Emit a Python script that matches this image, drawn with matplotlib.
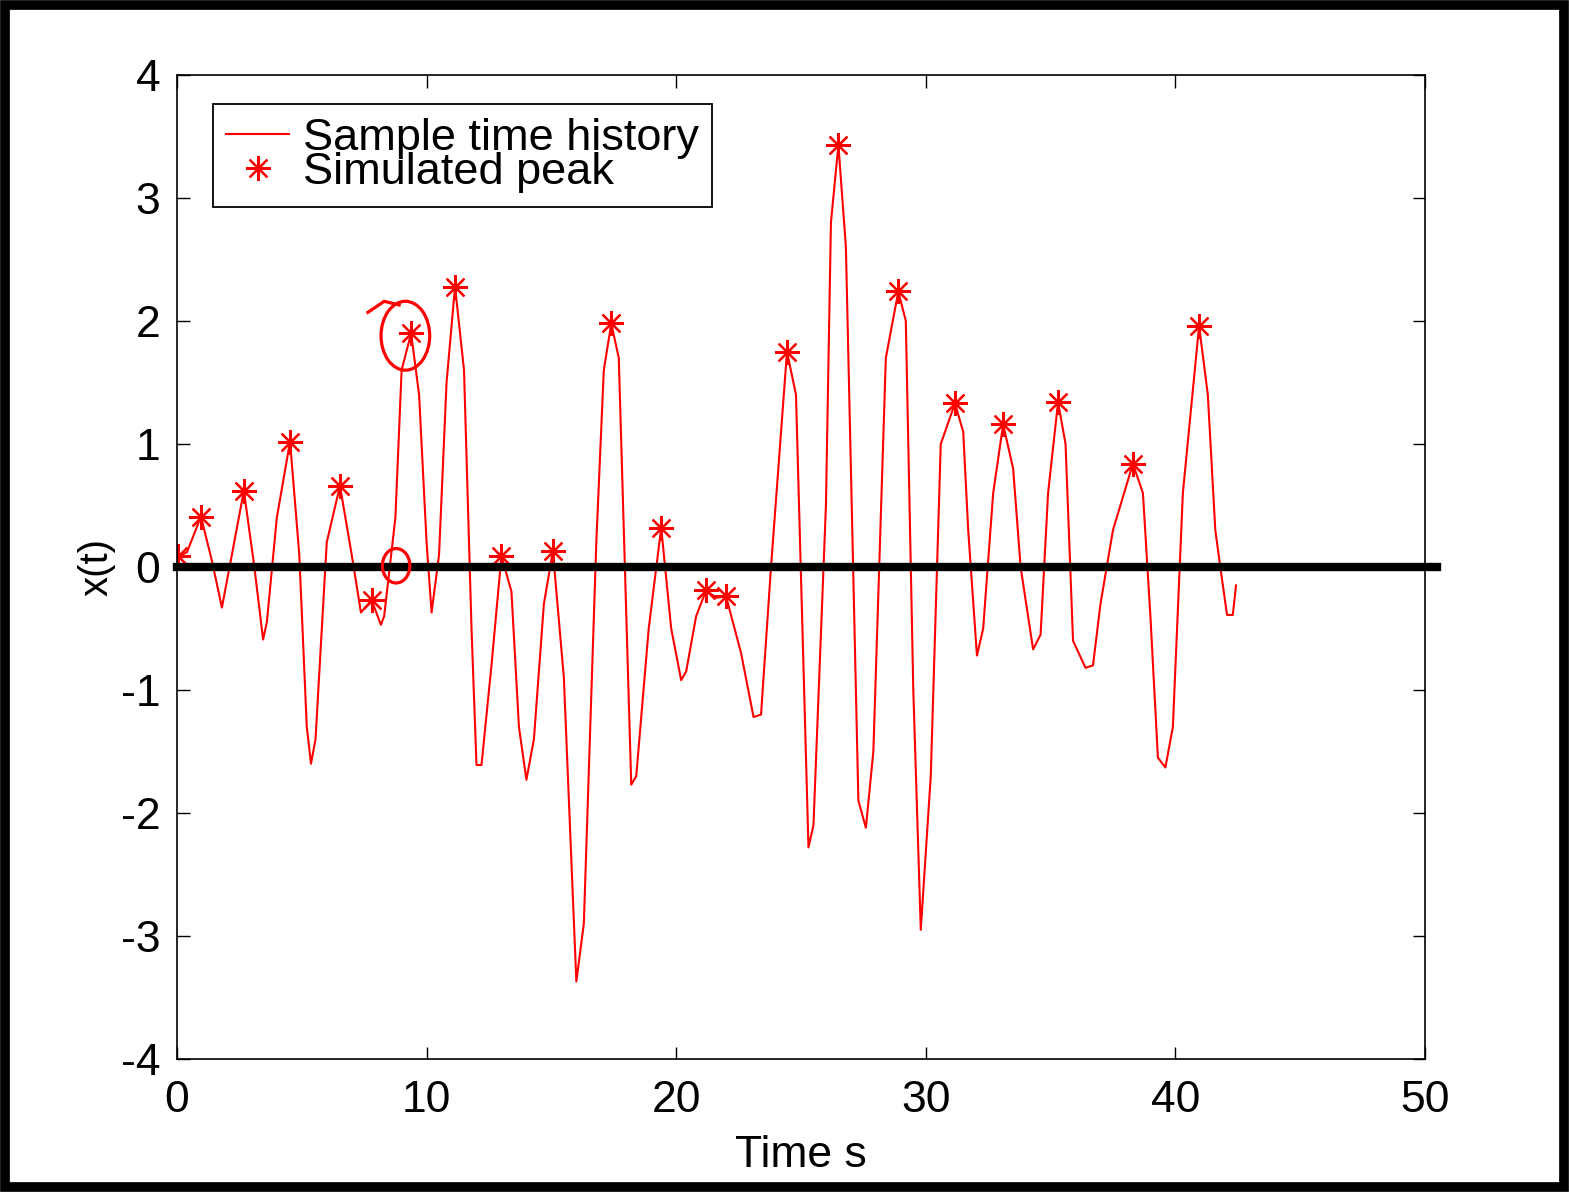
import matplotlib.pyplot as plt
from matplotlib.patches import Ellipse, Rectangle

plt.rcParams['font.family'] = ['Liberation Sans', 'DejaVu Sans']
plt.rcParams['axes.unicode_minus'] = False

# sample time history (vertices)
t = [0.0, 0.4, 0.96, 1.4, 1.8, 2.2, 2.68, 3.1, 3.45, 3.6, 4.0, 4.53, 4.9, 5.2, 5.37, 5.55,
     6.0, 6.53, 7.0, 7.37, 7.8, 8.17, 8.3, 8.75, 9.0, 9.38, 9.7, 10.0, 10.2, 10.5, 10.8,
     11.14, 11.5, 11.8, 12.0, 12.2, 12.6, 13.0, 13.4, 13.7, 14.0, 14.3, 14.7, 15.06,
     15.5, 16.0, 16.3, 16.8, 17.1, 17.4, 17.7, 18.2, 18.4, 18.9, 19.4, 19.8, 20.2, 20.4,
     20.8, 21.2, 21.6, 22.0, 22.6, 23.1, 23.4, 23.8, 24.44, 24.8, 25.3, 25.5, 26.0, 26.2,
     26.5, 26.8, 27.3, 27.6, 27.9, 28.4, 28.9, 29.2, 29.5, 29.8, 30.2, 30.6, 31.17, 31.5,
     31.7, 32.05, 32.3, 32.7, 33.1, 33.5, 33.8, 34.3, 34.6, 34.9, 35.3, 35.6, 35.9, 36.4,
     36.7, 37.0, 37.5, 38.3, 38.7, 39.0, 39.3, 39.6, 39.9, 40.3, 40.95, 41.3, 41.6, 41.8,
     42.07, 42.3, 42.43]
x = [0.08, 0.12, 0.41, 0.05, -0.33, 0.1, 0.62, 0.0, -0.59, -0.45, 0.4, 1.02, 0.1, -1.3,
     -1.6, -1.4, 0.2, 0.66, 0.1, -0.37, -0.27, -0.47, -0.4, 0.4, 1.6, 1.9, 1.4, 0.2, -0.37,
     0.1, 1.5, 2.28, 1.6, -0.5, -1.61, -1.61, -0.8, 0.09, -0.2, -1.3, -1.73, -1.4, -0.3,
     0.13, -0.9, -3.37, -2.9, 0.2, 1.6, 1.98, 1.7, -1.77, -1.7, -0.5, 0.32, -0.5, -0.92,
     -0.85, -0.4, -0.19, -0.25, -0.24, -0.7, -1.22, -1.2, 0.0, 1.75, 1.4, -2.28, -2.1,
     0.5, 2.8, 3.43, 2.6, -1.9, -2.12, -1.5, 1.7, 2.24, 2.0, -1.0, -2.95, -1.7, 1.0,
     1.33, 1.1, 0.3, -0.72, -0.5, 0.6, 1.16, 0.8, 0.0, -0.67, -0.55, 0.6, 1.34, 1.0,
     -0.6, -0.82, -0.8, -0.3, 0.3, 0.84, 0.6, -0.4, -1.55, -1.63, -1.3, 0.6, 1.96, 1.4,
     0.3, 0.0, -0.39, -0.39, -0.15]

# simulated peaks
peak_t = [0.04, 0.96, 2.68, 4.53, 6.53, 7.8, 9.38, 11.14, 13.0, 15.06, 17.4, 19.4,
          21.2, 22.0, 24.44, 26.5, 28.9, 31.17, 33.1, 35.3, 38.3, 40.95]
peak_x = [0.09, 0.41, 0.62, 1.02, 0.66, -0.27, 1.9, 2.28, 0.09, 0.13, 1.98, 0.32,
          -0.19, -0.24, 1.75, 3.43, 2.24, 1.33, 1.16, 1.34, 0.84, 1.96]

fig = plt.figure(figsize=(15.69, 11.92), dpi=100)
ax = fig.add_axes([0.1128, 0.1116, 0.7954, 0.8255])

ax.plot(t, x, color='red', lw=1.5, label='Sample time history')
ax.plot(peak_t, peak_x, ls='none', marker=(8, 2, 0), ms=18, mec='red', mew=1.6,
        color='red', label='Simulated peak')

ax.set_xlim(0, 50)
ax.set_ylim(-4, 4)
ax.set_xticks(range(0, 51, 10))
ax.set_yticks(range(-4, 5))
ax.tick_params(direction='in', length=9, width=1, top=True, right=True, labelsize=32)
ax.tick_params(axis='x', pad=15)
ax.tick_params(axis='y', pad=12)
for s in ax.spines.values():
    s.set_linewidth(1.2)
ax.set_xlabel('Time s', fontsize=32, labelpad=10)
ax.set_ylabel('x(t)', fontsize=29, labelpad=4)

leg = ax.legend(loc='upper left', bbox_to_anchor=(0.0285, 0.97), fontsize=32.5,
                labelspacing=-0.15, handlelength=1.4, handletextpad=0.3,
                borderpad=0.3, borderaxespad=0, fancybox=False,
                edgecolor='black', framealpha=1)
leg.get_frame().set_linewidth(1.3)

# thick zero line
ax.plot([0, 50.5], [0, 0], color='black', lw=6, clip_on=False, zorder=5)

# hand-drawn marks
ax.add_patch(Ellipse((9.15, 1.88), 1.95, 0.56, angle=0, fill=False, ec='red', lw=2.3,
                     zorder=6))
ax.plot([7.65, 8.3, 8.9], [2.07, 2.16, 2.13], color='red', lw=2.3, zorder=6)
ax.add_patch(Ellipse((8.78, 0.01), 1.1, 0.28, angle=0, fill=False, ec='red', lw=2.3,
                     zorder=6))

# outer black frame
fig.patches.append(Rectangle((0.003, 0.004), 0.994, 0.992, transform=fig.transFigure,
                             fill=False, ec='black', lw=7))

fig.savefig('out.png', dpi=100)
